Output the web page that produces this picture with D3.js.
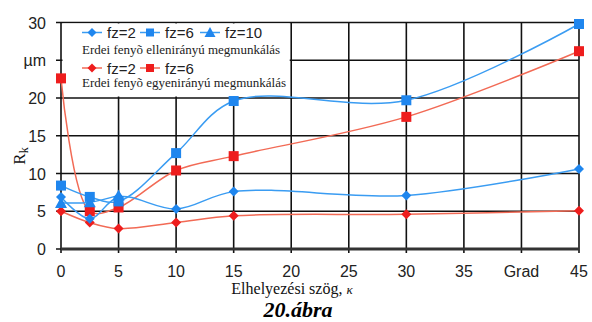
<!DOCTYPE html>
<html><head><meta charset="utf-8">
<script src="https://cdn.jsdelivr.net/npm/d3@7"></script>
<style>body{margin:0;background:#fff}svg{display:block}</style>
</head><body>
<script>
const xTicks = [0,5,10,15,20,25,30,35,40,45];
const xTickLabels = ["0","5","10","15","20","25","30","35","Grad","45"];
const yTicks = [0,5,10,15,20,25,30];
const yTickLabels = ["0","5","10","15","20","µm","30"];

const xFull = [0,2.5,5,10,15,30,45];
const xShort = [0,2.5,5];
const ellenFz2 = [6.9,4.0,6.9,5.3,7.6,7.1,10.6];
const ellenFz6 = [8.4,6.9,6.3,12.7,19.6,19.7,29.8];
const ellenFz10 = [6.1,6.2,7.1];
const egyenFz2 = [5.0,3.5,2.7,3.5,4.4,4.6,5.05];
const egyenFz6 = [22.6,5.0,5.5,10.4,12.3,17.5,26.2];

const BLUE="#3a9cf2", BLUEM="#1f86ee", RED="#f26a55", REDM="#ee1d1d";
const series = [
  {xs:xFull, ys:egyenFz2, line:RED, fill:REDM, shape:"diamond"},
  {xs:xFull, ys:egyenFz6, line:RED, fill:REDM, shape:"square"},
  {xs:xShort, ys:ellenFz10, line:BLUE, fill:BLUEM, shape:"triangle"},
  {xs:xFull, ys:ellenFz2, line:BLUE, fill:BLUEM, shape:"diamond"},
  {xs:xFull, ys:ellenFz6, line:BLUE, fill:BLUEM, shape:"square"},
];

const W=592,H=322;
const svg=d3.select("body").append("svg").attr("width",W).attr("height",H);
const x=d3.scaleLinear().domain([0,45]).range([61,579]);
const y=d3.scaleLinear().domain([0,30]).range([249,22.5]);

// grid
const g=svg.append("g");
g.selectAll("line.v").data(xTicks).join("line")
 .attr("x1",d=>x(d)).attr("x2",d=>x(d)).attr("y1",y(30)).attr("y2",y(0)+4)
 .attr("stroke","#111").attr("stroke-width",1.6);
g.selectAll("line.h").data(yTicks).join("line")
 .attr("x1",x(0)-5).attr("x2",x(45)).attr("y1",d=>y(d)).attr("y2",d=>y(d))
 .attr("stroke","#111").attr("stroke-width",1.6);
g.append("line").attr("x1",x(0)).attr("x2",x(45)).attr("y1",y(0)).attr("y2",y(0))
 .attr("stroke","#333").attr("stroke-width",3);

// legend background
svg.append("rect").attr("x",x(0)+1.5).attr("y",y(30)+1).attr("width",x(20)-x(0)-3).attr("height",73).attr("fill","#fff");

// axis labels
const sans="Arial, 'Liberation Sans', sans-serif";
const serif="'Liberation Serif','Times New Roman',serif";
svg.selectAll("text.yl").data(yTicks).join("text")
 .attr("x",46).attr("y",d=>y(d)+6).attr("text-anchor","end")
 .attr("font-family",sans).attr("font-size",16).attr("fill","#222")
 .text((d,i)=>yTickLabels[i]);
svg.selectAll("text.xl").data(xTicks).join("text")
 .attr("x",d=>x(d)).attr("y",277).attr("text-anchor","middle")
 .attr("font-family",sans).attr("font-size",16).attr("fill","#222")
 .text((d,i)=>xTickLabels[i]);

const yt=svg.append("text").attr("transform","translate(25,156) rotate(-90)")
 .attr("text-anchor","middle").attr("font-family",serif).attr("font-size",17).attr("fill","#111");
yt.append("tspan").text("R");
yt.append("tspan").attr("font-size",12).attr("dy",3).text("k");

const xt=svg.append("text").attr("x",292).attr("y",294).attr("text-anchor","middle")
 .attr("font-family",serif).attr("font-size",16).attr("fill","#111");
xt.append("tspan").text("Elhelyezési szög, ");
xt.append("tspan").attr("font-style","italic").attr("font-size",13).text("κ");

svg.append("text").attr("x",298).attr("y",317).attr("text-anchor","middle")
 .attr("font-family",serif).attr("font-size",22).attr("font-weight","bold").attr("font-style","italic")
 .attr("fill","#000").text("20.ábra");

// markers
function marker(sel,shape,cx,cy,fill,s){
  if(shape==="square"){
    sel.append("rect").attr("x",cx-s).attr("y",cy-s).attr("width",2*s).attr("height",2*s).attr("fill",fill);
  } else if(shape==="diamond"){
    sel.append("path").attr("d",`M${cx},${cy-s}L${cx+s},${cy}L${cx},${cy+s}L${cx-s},${cy}Z`).attr("fill",fill);
  } else {
    sel.append("path").attr("d",`M${cx},${cy-s-1}L${cx+s+1},${cy+s}L${cx-s-1},${cy+s}Z`).attr("fill",fill);
  }
}

const line=d3.line().x(d=>x(d[0])).y(d=>y(d[1])).curve(d3.curveCatmullRom.alpha(0.5));
const plot=svg.append("g");
series.forEach(s=>{
  const pts=s.xs.map((v,i)=>[v,s.ys[i]]);
  plot.append("path").attr("d",line(pts)).attr("fill","none").attr("stroke",s.line).attr("stroke-width",1.5);
});
series.forEach(s=>{
  s.xs.forEach((v,i)=>{
    marker(plot,s.shape,x(v),y(s.ys[i]),s.fill,5);
  });
});

// legend
const leg=svg.append("g");
function legItem(lx,ly,col,fill,shape,label){
  leg.append("line").attr("x1",lx).attr("x2",lx+20).attr("y1",ly).attr("y2",ly).attr("stroke",col).attr("stroke-width",1.5);
  marker(leg,shape,lx+10,ly,fill,shape==="square"?4:4.5);
  leg.append("text").attr("x",lx+25).attr("y",ly+5.5).attr("font-family",sans).attr("font-size",15).attr("fill","#222").text(label);
}
legItem(82,32.5,BLUE,BLUEM,"diamond","fz=2");
legItem(140,32.5,BLUE,BLUEM,"square","fz=6");
legItem(200,32.5,BLUE,BLUEM,"triangle","fz=10");
leg.append("text").attr("x",82).attr("y",54).attr("font-family",serif).attr("font-size",13).attr("fill","#222")
 .text("Erdei fenyõ ellenirányú megmunkálás");
legItem(82,68,RED,REDM,"diamond","fz=2");
legItem(140,68,RED,REDM,"square","fz=6");
leg.append("text").attr("x",82).attr("y",87).attr("font-family",serif).attr("font-size",13).attr("fill","#222")
 .text("Erdei fenyõ egyenirányú megmunkálás");
</script>
</body></html>
